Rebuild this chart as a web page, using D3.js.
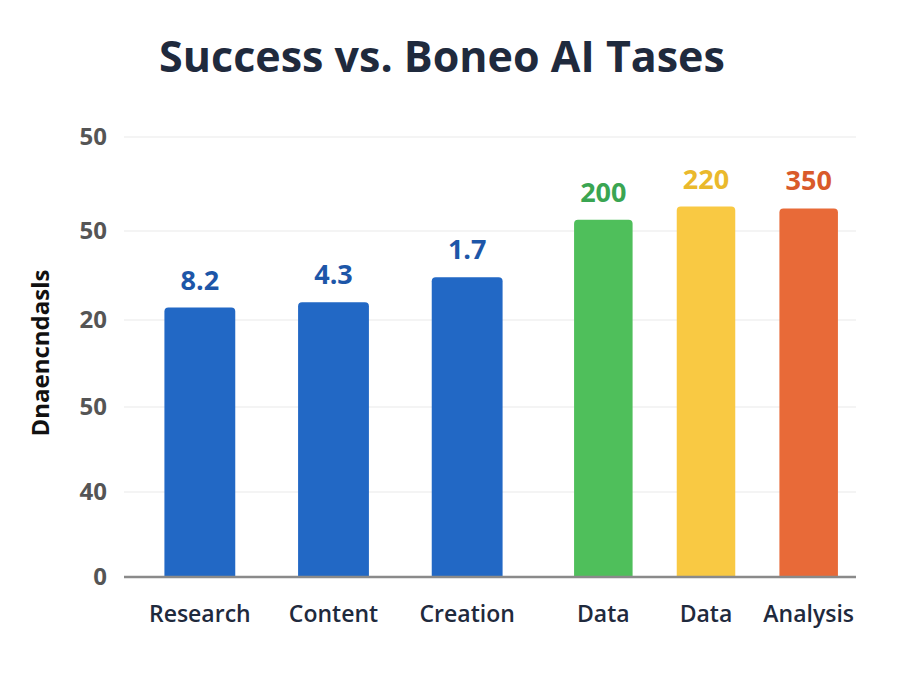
<!DOCTYPE html>
<html>
<head>
<meta charset="utf-8">
<script src="https://cdn.jsdelivr.net/npm/d3@7"></script>
<style>
  body { margin: 0; background: #fff; }
</style>
</head>
<body>
<div id="chart"></div>
<script>
// chart values
const categories = ["Research", "Content", "Creation", "Data", "Data", "Analysis"];
const groups = ["a", "a", "a", "b", "b", "b"];
const heights = [157, 160, 174, 206, 213, 212];
const valueLabels = ["8.2", "4.3", "1.7", "200", "220", "350"];
const tickValues = [0, 50, 100, 150, 200, 250];
const tickLabels = ["0", "40", "50", "20", "50", "50"];

const barColors = ["#2268c5", "#2268c5", "#2268c5", "#4fbf5b", "#f9c943", "#e86a38"];
const labelColors = ["#1d56a8", "#1d56a8", "#1d56a8", "#3aa552", "#eab92c", "#d95a2a"];

const width = 900, height = 675;

const svg = d3.select("#chart")
    .append("svg")
    .attr("width", width)
    .attr("height", height)
    .style("font-family", "'Open Sans', sans-serif");

// the picture's gridlines are not evenly spaced
const y = d3.scaleLinear()
    .domain(tickValues)
    .range([577, 492, 407, 320, 231, 137]);

// two clusters of bars, spaced differently
const xA = d3.scaleBand().domain([0, 1, 2]).range([133, 534]).paddingInner(0.47).paddingOuter(0.235);
const xB = d3.scaleBand().domain([3, 4, 5]).range([552, 860]).paddingInner(0.43).paddingOuter(0.215);
const xFor = i => groups[i] === "a" ? xA : xB;

svg.append("text")
    .attr("x", 442)
    .attr("y", 72)
    .attr("text-anchor", "middle")
    .style("font-size", "43px")
    .style("font-weight", "bold")
    .style("fill", "#1f2a3d")
    .text("Success vs. Boneo AI Tases");

// grid
svg.append("g")
    .selectAll("line")
    .data(tickValues.slice(1))
    .enter()
    .append("line")
    .attr("x1", 124)
    .attr("x2", 856)
    .attr("y1", d => y(d))
    .attr("y2", d => y(d))
    .attr("stroke", "#e9e9e9")
    .attr("stroke-width", 1.2);

const yAxis = svg.append("g")
    .attr("transform", "translate(124,0)")
    .call(d3.axisLeft(y).tickValues(tickValues).tickSize(0).tickPadding(17)
        .tickFormat((d, i) => tickLabels[i]));
yAxis.select(".domain").remove();
yAxis.selectAll("text")
    .style("font-family", "'Open Sans', sans-serif")
    .style("font-size", "24px")
    .style("font-weight", "bold")
    .style("fill", "#555");

svg.append("text")
    .attr("transform", "translate(49,353) rotate(-90)")
    .attr("text-anchor", "middle")
    .style("font-size", "24px")
    .style("font-weight", "bold")
    .style("fill", "#111")
    .text("Dnaencndasls");

const r = 4;
const bars = categories.map((c, i) => ({ c, i, h: heights[i] }));

svg.append("g")
    .selectAll("path")
    .data(bars)
    .enter()
    .append("path")
    .attr("d", d => {
        const sx = xFor(d.i);
        const x0 = sx(d.i), w = sx.bandwidth();
        const top = y(d.h), bot = y(0);
        return `M${x0},${bot}V${top + r}Q${x0},${top} ${x0 + r},${top}H${x0 + w - r}Q${x0 + w},${top} ${x0 + w},${top + r}V${bot}Z`;
    })
    .attr("fill", d => barColors[d.i]);

svg.append("g")
    .selectAll("text")
    .data(bars)
    .enter()
    .append("text")
    .attr("x", d => xFor(d.i)(d.i) + xFor(d.i).bandwidth() / 2)
    .attr("y", d => y(d.h) - 18)
    .attr("text-anchor", "middle")
    .style("font-size", "27px")
    .style("font-weight", "bold")
    .style("fill", d => labelColors[d.i])
    .text(d => valueLabels[d.i]);

// baseline
svg.append("line")
    .attr("x1", 124)
    .attr("x2", 856)
    .attr("y1", y(0))
    .attr("y2", y(0))
    .attr("stroke", "#8a8a8a")
    .attr("stroke-width", 2.5);

svg.append("g")
    .selectAll("text")
    .data(bars)
    .enter()
    .append("text")
    .attr("x", d => xFor(d.i)(d.i) + xFor(d.i).bandwidth() / 2)
    .attr("y", 622)
    .attr("text-anchor", "middle")
    .style("font-size", "23px")
    .style("font-weight", "600")
    .style("fill", "#1f2a3d")
    .text(d => d.c);
</script>
</body>
</html>
